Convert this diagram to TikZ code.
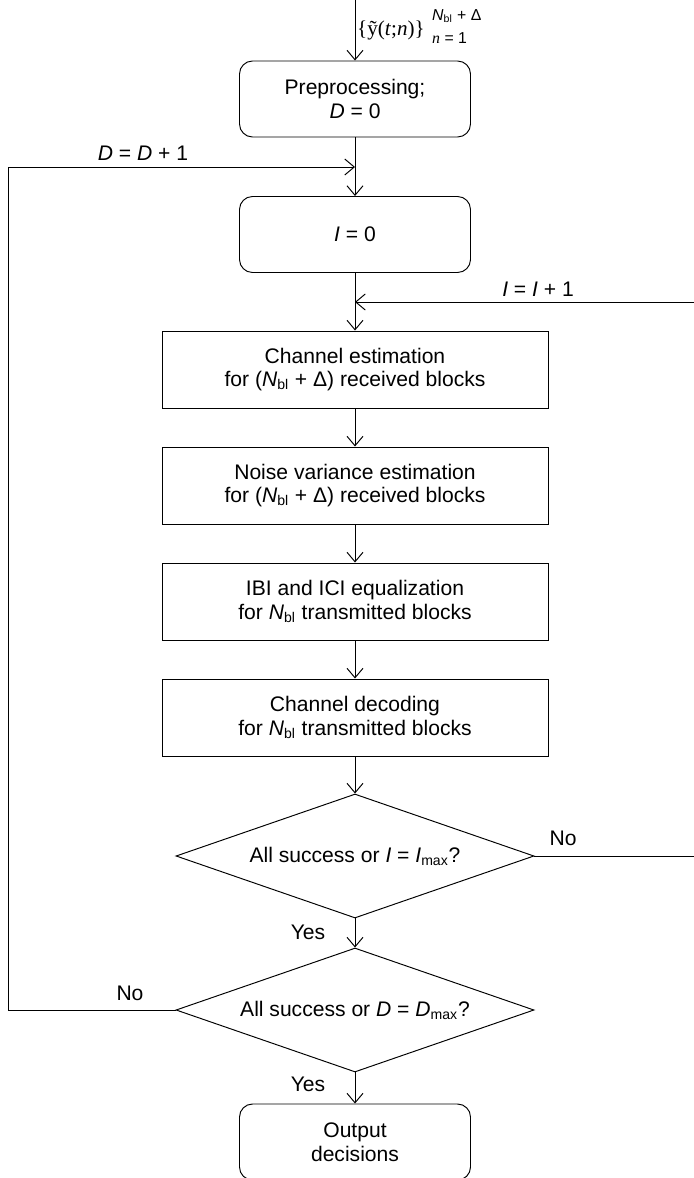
\documentclass[tikz,border=0pt]{standalone}
\usepackage{fontspec}
\setmainfont{Liberation Sans}
\newfontfamily\seriffont{Liberation Serif}
\usetikzlibrary{shapes.geometric,arrows.meta}

\newcommand{\Nbl}{\textit{N}\textsubscript{bl}}

\tikzset{
    flow/.style={-{Straight Barb[length=1.9mm,width=3.2mm]}},
    block/.style={draw, rectangle, minimum width=77.2mm, minimum height=15.4mm, align=center},
    endblock/.style={draw, rectangle, rounded corners=2.6mm, minimum width=46.2mm, minimum height=15.2mm, align=center},
    test/.style={draw, diamond, aspect=2.89, minimum width=71.6mm, minimum height=24.8mm, inner sep=0pt, align=center},
    lbl/.style={inner sep=1pt}
}

\begin{document}
\begin{tikzpicture}[x=0.2mm, y=-0.2mm, line width=0.55pt, font=\fontsize{12}{13.5}\selectfont]
    \useasboundingbox (0,0) rectangle (694,1178);

    \coordinate (in) at (355,0);
    \coordinate (djoin) at (355,167);
    \coordinate (ijoin) at (355,302);
    \coordinate (dloop) at (8,1010);
    \coordinate (iloop) at (699,856);

    \node[endblock] (prep) at (355,99) {Preprocessing;\\\textit{D} = 0};
    \node[endblock] (iinit) at (355,234.5) {\textit{I} = 0};
    \node[block] (chest) at (355,369.5) {Channel estimation\\for (\Nbl{} + Δ) received blocks};
    \node[block] (noise) at (355,485.5) {Noise variance estimation\\for (\Nbl{} + Δ) received blocks};
    \node[block] (equal) at (355,601.5) {IBI and ICI equalization\\for \Nbl{} transmitted blocks};
    \node[block] (decod) at (355,717.5) {Channel decoding\\for \Nbl{} transmitted blocks};
    \node[test] (itest) at (355,856) {All success or \textit{I} = \textit{I}\textsubscript{max}?};
    \node[test] (dtest) at (355,1010) {All success or \textit{D} = \textit{D}\textsubscript{max}?};
    \node[endblock] (out) at (355,1142) {Output\\decisions};

    \node[lbl] (ysig) at (391,30) {\seriffont\{ỹ(\textit{t};\textit{n})\}};
    \node[lbl, anchor=west, font=\fontsize{9}{10}\selectfont] (yup) at (430,16) {\Nbl{} + Δ};
    \node[lbl, anchor=west, font=\fontsize{9}{10}\selectfont] (ylow) at (430,38) {{\seriffont\textit{n}} = 1};

    \node[lbl] (dinc) at (143,153) {\textit{D} = \textit{D} + 1};
    \node[lbl] (iinc) at (538,289) {\textit{I} = \textit{I} + 1};
    \node[lbl] (ino) at (563,838) {No};
    \node[lbl] (iyes) at (308,932) {Yes};
    \node[lbl] (dno) at (130,993) {No};
    \node[lbl] (dyes) at (308,1084) {Yes};

    \draw[flow] (in) -- (prep);
    \draw[flow] (prep) -- (iinit);
    \draw[flow] (iinit) -- (chest);
    \draw[flow] (chest) -- (noise);
    \draw[flow] (noise) -- (equal);
    \draw[flow] (equal) -- (decod);
    \draw[flow] (decod) -- (itest);
    \draw[flow] (itest) -- (dtest);
    \draw[flow] (dtest) -- (out);

    \draw[flow] (dtest.west) -- (dloop) |- (djoin);
    \draw[flow] (itest.east) -- (iloop) |- (ijoin);
\end{tikzpicture}
\end{document}
